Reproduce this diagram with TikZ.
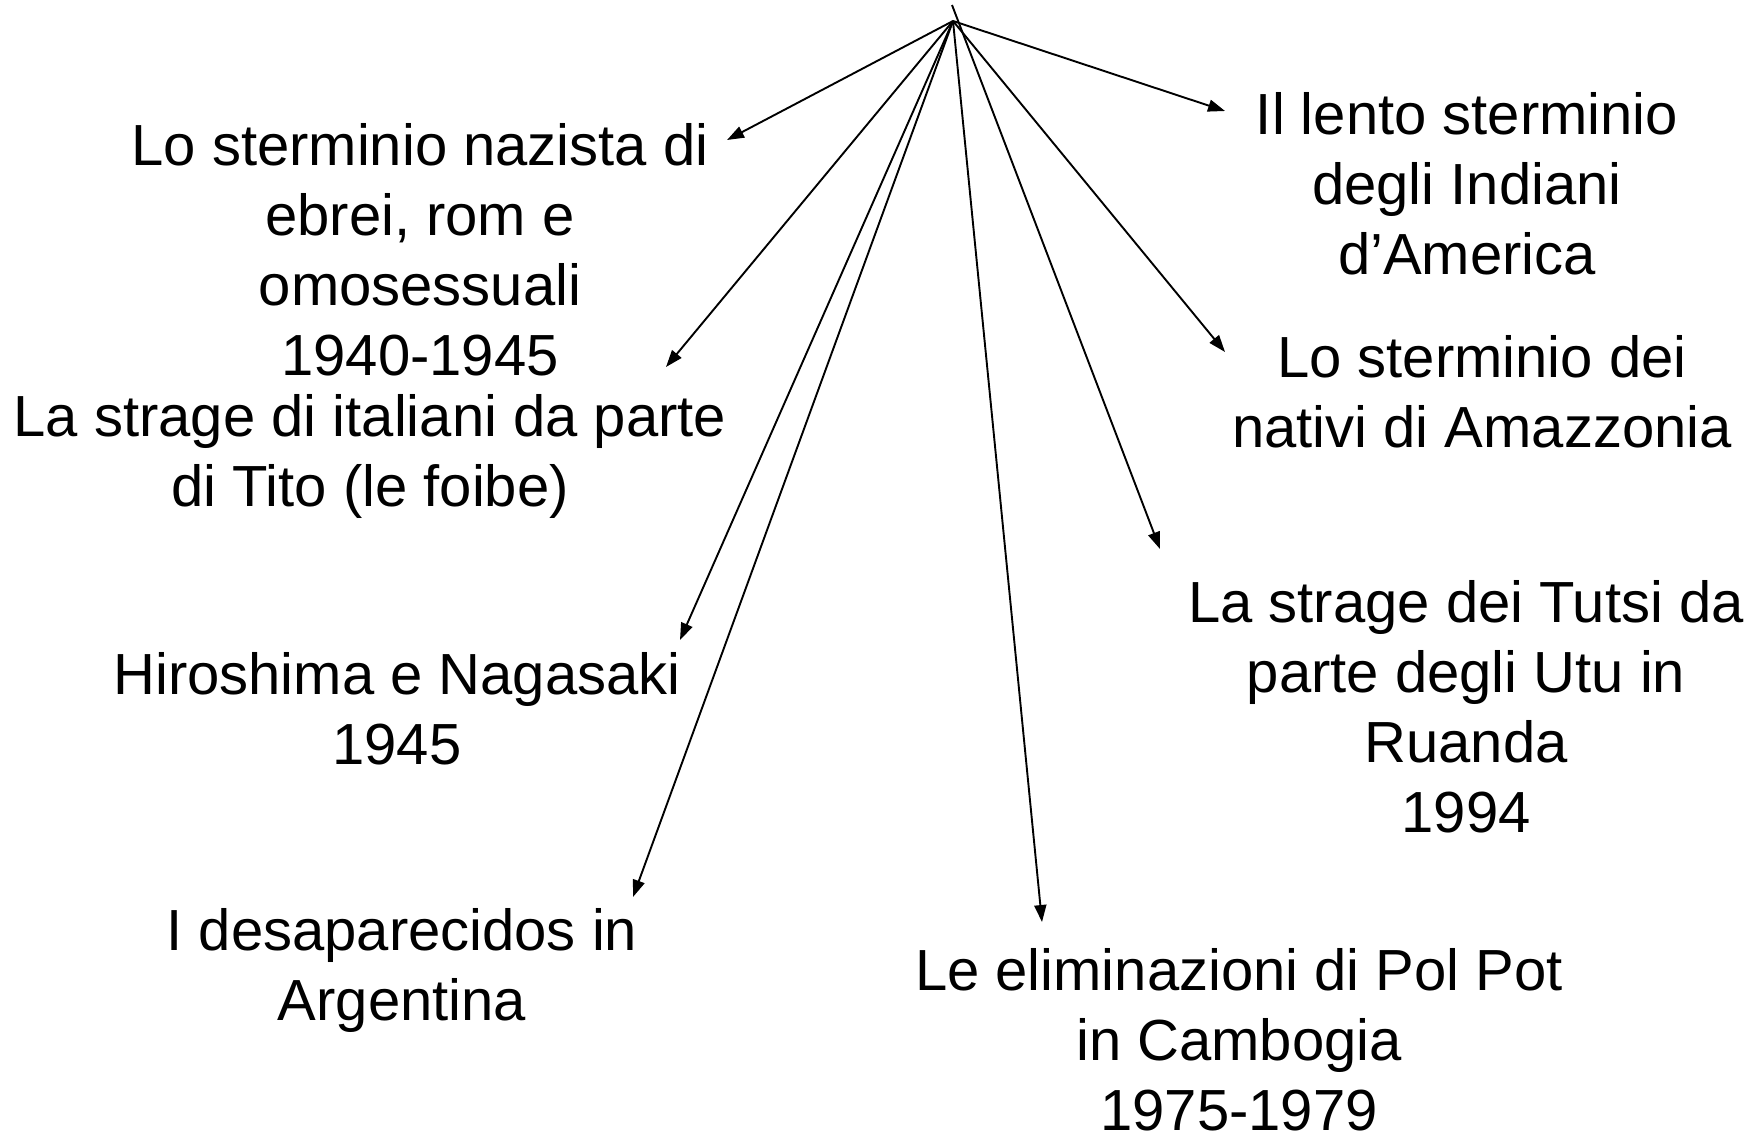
\documentclass[tikz,border=0pt]{standalone}
\usepackage{fontspec}
\setmainfont{Liberation Sans}
\usetikzlibrary{arrows.meta}
\newcommand\mystrut{\rule{0pt}{50pt}}
\begin{document}
\begin{tikzpicture}[x=1pt,y=-1pt,
  lbl/.style={align=center, anchor=north, inner sep=0pt, font=\fontsize{58}{70}\selectfont},
  arr/.style={line width=1.9pt, -{Triangle[length=17pt,width=12pt]}}]
\useasboundingbox[fill=white] (0,0) rectangle (1763,1141);
\coordinate (o) at (953,21);
\coordinate (top) at (952,5);
\node[lbl] (naz) at (420,115) {\mystrut Lo sterminio nazista di\\ebrei, rom e\\omosessuali\\1940-1945};
\node[lbl] (tito) at (370,386) {\mystrut La strage di italiani da parte\\di Tito (le foibe)};
\node[lbl] (hiro) at (397,644) {\mystrut Hiroshima e Nagasaki\\1945};
\node[lbl] (desa) at (402,900) {\mystrut I desaparecidos in\\Argentina};
\node[lbl] (pol) at (1239,940) {\mystrut Le eliminazioni di Pol Pot\\in Cambogia\\1975-1979};
\node[lbl] (tut) at (1466,572) {\mystrut La strage dei Tutsi da\\parte degli Utu in\\Ruanda\\1994};
\node[lbl] (ind) at (1467,84) {\mystrut Il lento sterminio\\degli Indiani\\d’America};
\node[lbl] (ama) at (1482,327) {\mystrut Lo sterminio dei\\nativi di Amazzonia};
\coordinate (tNaz) at (727,140);
\coordinate (tTito) at (666,367);
\coordinate (tHiro) at (680,640);
\coordinate (tDesa) at (633,897);
\coordinate (tPol) at (1042,922);
\coordinate (tTut) at (1160,549);
\coordinate (tAma) at (1225,352);
\coordinate (tInd) at (1225,111);
\draw[arr] (o) -- (tNaz);
\draw[arr] (o) -- (tTito);
\draw[arr] (o) -- (tHiro);
\draw[arr] (o) -- (tDesa);
\draw[arr] (o) -- (tPol);
\draw[arr] (top) -- (tTut);
\draw[arr] (o) -- (tAma);
\draw[arr] (o) -- (tInd);
\end{tikzpicture}
\end{document}
